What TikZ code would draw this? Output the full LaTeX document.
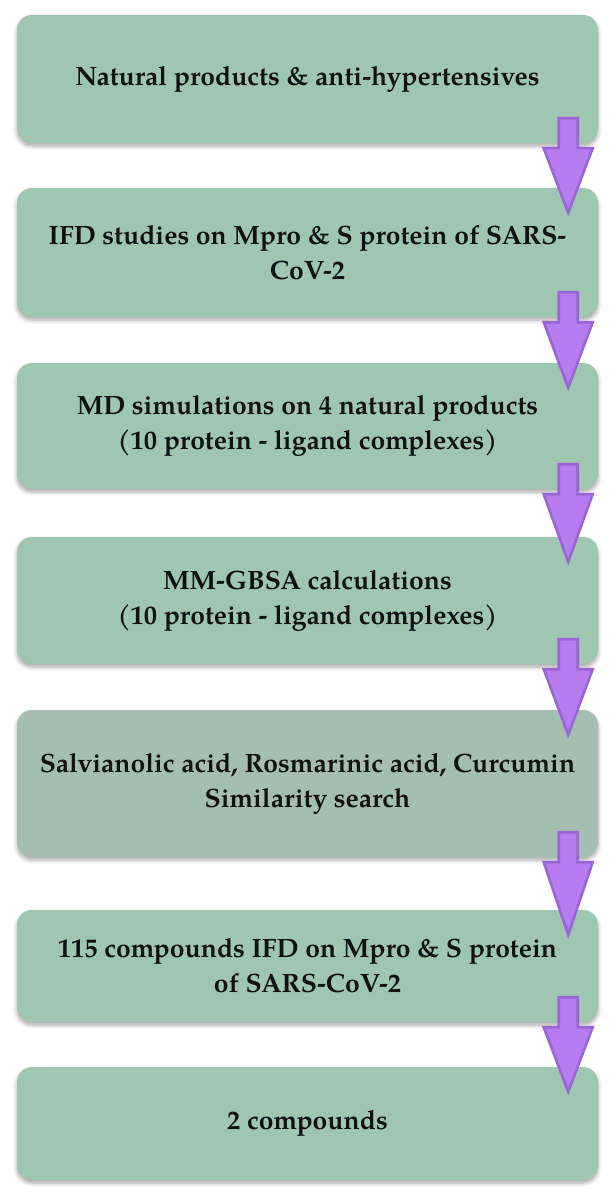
\documentclass[tikz,border=0pt]{standalone}
\usepackage{fontspec}
\setmainfont{TeX Gyre Pagella}
\usetikzlibrary{calc,shadows.blur}
\definecolor{boxgreen}{HTML}{9FC6B1}
\definecolor{boxgrey}{HTML}{A4BFB1}
\definecolor{arrfill}{HTML}{B67CF0}
\definecolor{arrline}{HTML}{9A66D6}
\definecolor{txt}{HTML}{111111}
\tikzset{
  stepbox/.style={rounded corners=15pt, fill=boxgreen, draw=none,
    minimum width=581pt, align=center, text=txt,
    font=\fontsize{26.5}{35}\selectfont\bfseries,
    blur shadow={shadow xshift=0pt, shadow yshift=-3pt, shadow blur steps=6, shadow opacity=35, shadow blur radius=4pt}},
  blockarrow/.style={fill=arrfill, draw=arrline, line width=2.6pt, line join=miter}
}
\newcommand\flowarrow[2]{%
  \draw[blockarrow] let \p1=(#1), \p2=(#2) in
    (\x1-9.5pt,\y1) -- (\x1+9.5pt,\y1) -- (\x1+9.5pt,\y1-30pt) -- (\x1+24.5pt,\y1-30pt)
    -- (\x2,\y2) -- (\x1-24.5pt,\y1-30pt) -- (\x1-9.5pt,\y1-30pt) -- cycle;}
\begin{document}
\begin{tikzpicture}
\path[use as bounding box] (0,0) rectangle (613pt,-1198pt);
\node[stepbox, minimum height=128pt] (b1) at (307.5pt,-79pt) {Natural products \& anti-hypertensives};
\node[stepbox, minimum height=129pt] (b2) at (307.5pt,-252.5pt) {IFD studies on Mpro \& S protein of SARS-\\CoV-2};
\node[stepbox, minimum height=126pt] (b3) at (307.5pt,-426pt) {MD simulations on 4 natural products\\(10 protein - ligand complexes)};
\node[stepbox, minimum height=127pt] (b4) at (307.5pt,-600.5pt) {MM-GBSA calculations\\(10 protein - ligand complexes)};
\node[stepbox, fill=boxgrey, minimum height=147pt] (b5) at (307.5pt,-783.5pt) {Salvianolic acid, Rosmarinic acid, Curcumin\\Similarity search};
\node[stepbox, minimum height=112pt] (b6) at (307.5pt,-966pt) {115 compounds IFD on Mpro \& S protein\\of SARS-CoV-2};
\node[stepbox, minimum height=113pt] (b7) at (307.5pt,-1123.5pt) {2 compounds};
\foreach \i/\j in {1/2,2/3,3/4,4/5,5/6,6/7}{
  \coordinate (s\i) at ($(b\i.south east)+(-30pt,25pt)$);
  \coordinate (e\i) at ($(b\j.north east)+(-30pt,-25pt)$);
}
\flowarrow{s1}{e1}
\flowarrow{s2}{e2}
\flowarrow{s3}{e3}
\flowarrow{s4}{e4}
\flowarrow{s5}{e5}
\flowarrow{s6}{e6}
\end{tikzpicture}
\end{document}
